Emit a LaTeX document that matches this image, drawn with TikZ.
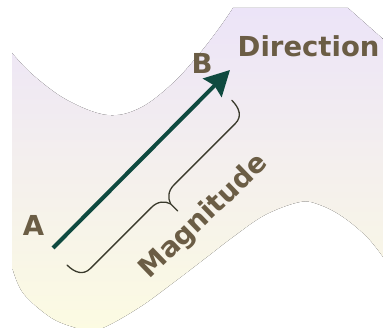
\documentclass[tikz,border=0pt]{standalone}
\usepackage{fontspec}
\setmainfont{DejaVu Sans}
\usepackage{xcolor}
\usepackage{tikz}
\usetikzlibrary{arrows.meta,positioning,calc}
\definecolor{bandTop}{HTML}{ECE4F8}
\definecolor{bandBot}{HTML}{FCFBE2}
\definecolor{vecGreen}{HTML}{0F4A40}
\definecolor{lblBrown}{HTML}{6B5D45}
\definecolor{braceGray}{HTML}{3A3A2C}

\begin{document}
\begin{tikzpicture}[x=1pt,y=1pt,
  lbl/.style={font=\fontsize{27.5}{30}\selectfont\bfseries, text=lblBrown, inner sep=0pt},
  vec/.style={line width=4pt, vecGreen, -{Stealth[length=25pt,width=26pt,inset=3pt]}},
  brc/.style={line width=1.3pt, braceGray, line cap=round, line join=round}]
\useasboundingbox (0,0) rectangle (383,328);
% wavy band
\begin{scope}
\clip (12,0) rectangle (383,320);
\fill[top color=bandTop, bottom color=bandBot]
  plot[smooth,tension=0.6] coordinates {(12,275) (33,253) (67,228) (107,213) (140,220) (173,245) (200,275) (220,301) (233,320)}
  -- (348,320) -- (383,289)
  -- plot[smooth,tension=0.6] coordinates {(383,71) (367,91) (343,111) (320,123) (300,126) (265,113) (233,91) (207,71) (173,45) (140,21) (105,1) (88,-2) (73,1) (50,11) (23,35) (12,61)}
  -- cycle;
\end{scope}
% vector
\coordinate (tail) at (53,80);
\coordinate (head) at (230,258);
\draw[vec] (tail) -- (head);
% labels
\node[lbl, anchor=base] (a) at (33.5,92) {A};
\node[lbl, anchor=base] (b) at (202,254) {B};
\node[lbl, anchor=base west] (dir) at (237.5,271) {Direction};
\node[lbl, rotate=44] (mag) at (204,111) {Magnitude};
% brace
\coordinate (brL) at (67,63);
\begin{scope}[shift={(brL)}, rotate=45, brc]
\draw (0,0) .. controls (0,-11) and (4,-19) .. (14,-19) -- (100.5,-19)
  .. controls (109.5,-19) and (114.5,-24) .. (116.5,-30) -- (116.5,-40);
\draw (233,0) .. controls (233,-11) and (229,-19) .. (219,-19) -- (132.5,-19)
  .. controls (123.5,-19) and (118.5,-24) .. (116.5,-30);
\end{scope}
\end{tikzpicture}
\end{document}
